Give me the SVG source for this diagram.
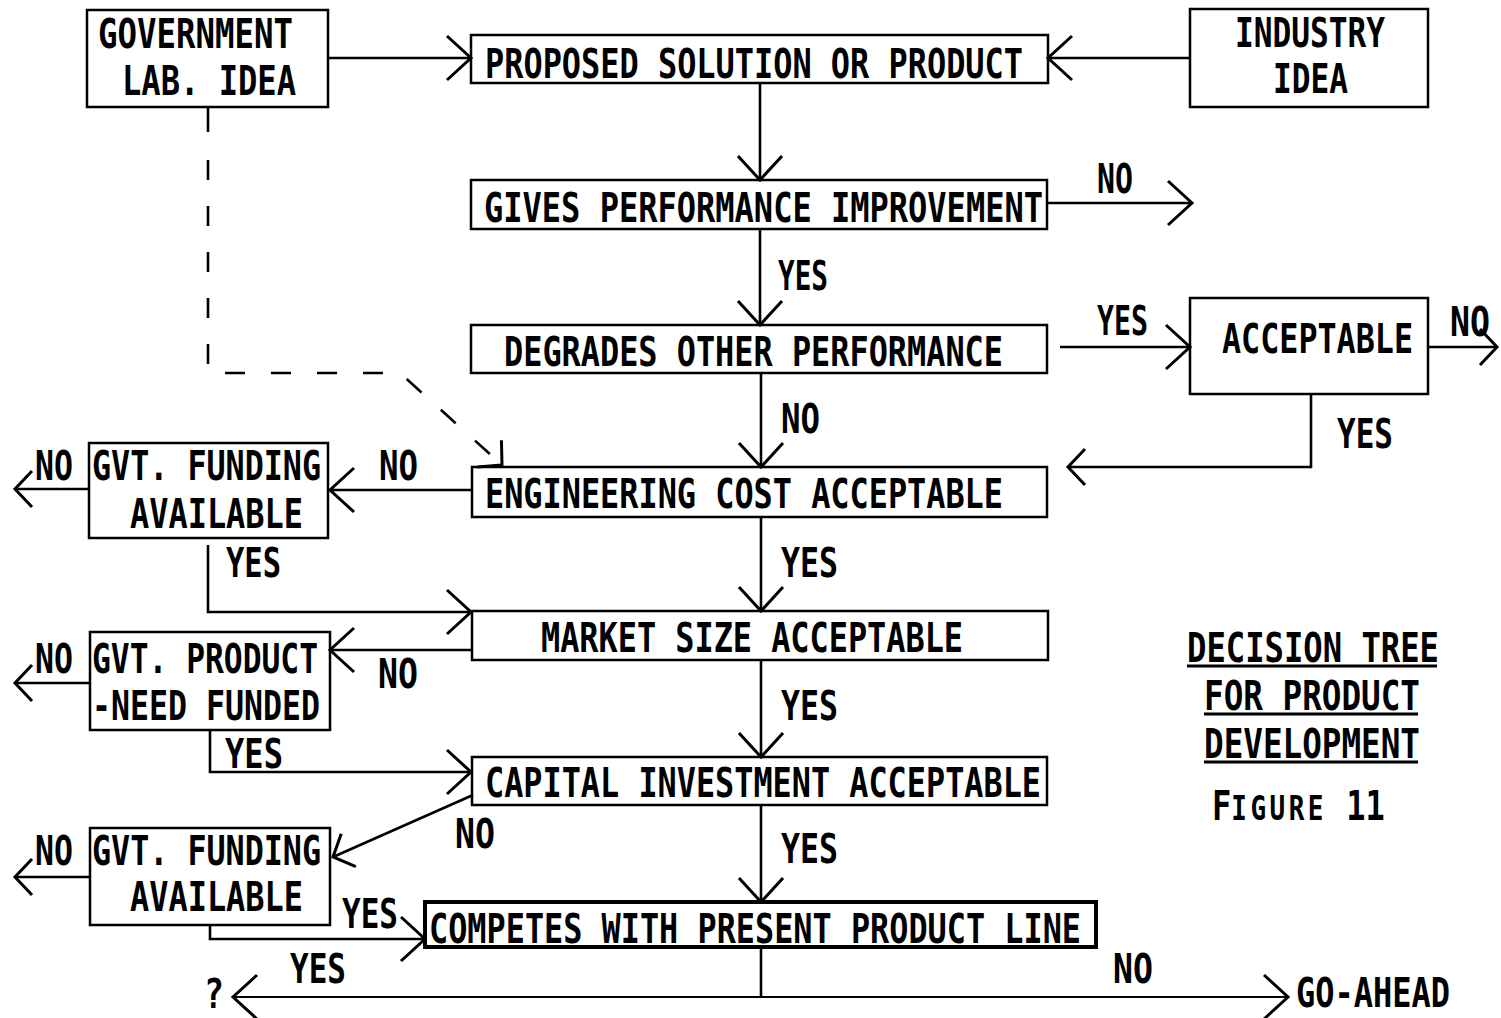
<svg xmlns="http://www.w3.org/2000/svg" width="1501" height="1018" viewBox="0 0 1501 1018">
<style>
.box{fill:none;stroke:#000;stroke-width:2.5}
.thick{stroke-width:4}
.c{fill:none;stroke:#000;stroke-width:2.6}
.dash{stroke-dasharray:20 26}
.thin{stroke-width:1.8}
text{font-family:"DejaVu Sans Mono","Liberation Mono",monospace;font-size:32px;font-weight:bold;fill:#000}
.ul{stroke:#000;stroke-width:3}
</style>
<defs>
<marker id="ah" markerUnits="userSpaceOnUse" viewBox="-30 -30 60 60" markerWidth="60" markerHeight="60" refX="0" refY="0" orient="auto" overflow="visible">
<path d="M-24,-22 L0,0 L-24,22" fill="none" stroke="#000" stroke-width="3"/>
</marker>
<marker id="as" markerUnits="userSpaceOnUse" viewBox="-30 -30 60 60" markerWidth="60" markerHeight="60" refX="0" refY="0" orient="auto" overflow="visible">
<path d="M-17,-18 L0,0 L-17,18" fill="none" stroke="#000" stroke-width="3"/>
</marker>
</defs>
<rect width="1501" height="1018" fill="#fff"/>

<g id="connectors">
<path class="c" d="M328,58 H471" marker-end="url(#ah)"/>
<path class="c" d="M1190,58 H1048" marker-end="url(#ah)"/>
<path class="c" d="M760,83 V180" marker-end="url(#ah)"/>
<path class="c" d="M1047,203 H1192" marker-end="url(#ah)"/>
<path class="c" d="M760,229 V325" marker-end="url(#ah)"/>
<path class="c" d="M1060,347 H1190" marker-end="url(#ah)"/>
<path class="c" d="M1428,347 H1497" marker-end="url(#as)"/>
<path class="c" d="M1311,394 V467 H1068" marker-end="url(#as)"/>
<path class="c" d="M761,373 V467" marker-end="url(#ah)"/>
<path class="c" d="M208,107 V132"/>
<path class="c dash" d="M208,160 V373 H400 L502,465" marker-end="url(#as)"/>
<path class="c" d="M472,490 H330" marker-end="url(#ah)"/>
<path class="c" d="M89,489 H15" marker-end="url(#as)"/>
<path class="c" d="M208,545 V612 H471" marker-end="url(#ah)"/>
<path class="c" d="M761,517 V611" marker-end="url(#ah)"/>
<path class="c" d="M472,650 H330" marker-end="url(#ah)"/>
<path class="c" d="M90,683 H15" marker-end="url(#as)"/>
<path class="c" d="M210,730 V772 H471" marker-end="url(#ah)"/>
<path class="c" d="M761,660 V757" marker-end="url(#ah)"/>
<path class="c" d="M473,795 L333,857" marker-end="url(#as)"/>
<path class="c" d="M90,877 H15" marker-end="url(#as)"/>
<path class="c" d="M210,925 V939 H425" marker-end="url(#ah)"/>
<path class="c" d="M761,805 V902" marker-end="url(#ah)"/>
<path class="c" d="M761,947 V997"/>
<path class="c thin" d="M761,997 H233" marker-end="url(#ah)"/>
<path class="c thin" d="M761,997 H1288" marker-end="url(#ah)"/>
</g>

<g id="labels">
<text transform="translate(1097,193) scale(1,1.29)" textLength="36" lengthAdjust="spacingAndGlyphs">NO</text>
<text transform="translate(778,290) scale(1,1.29)" textLength="50" lengthAdjust="spacingAndGlyphs">YES</text>
<text transform="translate(1097,335) scale(1,1.29)" textLength="51" lengthAdjust="spacingAndGlyphs">YES</text>
<text transform="translate(1450,336) scale(1,1.29)" textLength="40" lengthAdjust="spacingAndGlyphs">NO</text>
<text transform="translate(1337,448) scale(1,1.29)" textLength="56" lengthAdjust="spacingAndGlyphs">YES</text>
<text transform="translate(781,433) scale(1,1.29)" textLength="39" lengthAdjust="spacingAndGlyphs">NO</text>
<text transform="translate(379,480) scale(1,1.29)" textLength="39" lengthAdjust="spacingAndGlyphs">NO</text>
<text transform="translate(35,480) scale(1,1.29)" textLength="38" lengthAdjust="spacingAndGlyphs">NO</text>
<text transform="translate(226,577) scale(1,1.29)" textLength="55" lengthAdjust="spacingAndGlyphs">YES</text>
<text transform="translate(781,577) scale(1,1.29)" textLength="57" lengthAdjust="spacingAndGlyphs">YES</text>
<text transform="translate(378,688) scale(1,1.29)" textLength="40" lengthAdjust="spacingAndGlyphs">NO</text>
<text transform="translate(35,673) scale(1,1.29)" textLength="38" lengthAdjust="spacingAndGlyphs">NO</text>
<text transform="translate(225,768) scale(1,1.29)" textLength="58" lengthAdjust="spacingAndGlyphs">YES</text>
<text transform="translate(781,720) scale(1,1.29)" textLength="57" lengthAdjust="spacingAndGlyphs">YES</text>
<text transform="translate(455,848) scale(1,1.29)" textLength="40" lengthAdjust="spacingAndGlyphs">NO</text>
<text transform="translate(35,865) scale(1,1.29)" textLength="38" lengthAdjust="spacingAndGlyphs">NO</text>
<text transform="translate(781,863) scale(1,1.29)" textLength="57" lengthAdjust="spacingAndGlyphs">YES</text>
<text transform="translate(342,928) scale(1,1.29)" textLength="56" lengthAdjust="spacingAndGlyphs">YES</text>
<text transform="translate(290,983) scale(1,1.29)" textLength="56" lengthAdjust="spacingAndGlyphs">YES</text>
<text transform="translate(204,1008) scale(1,1.29)" textLength="20" lengthAdjust="spacingAndGlyphs">?</text>
<text transform="translate(1113,983) scale(1,1.29)" textLength="40" lengthAdjust="spacingAndGlyphs">NO</text>
<text transform="translate(1296,1007) scale(1,1.29)" textLength="154" lengthAdjust="spacingAndGlyphs">GO-AHEAD</text>
</g>

<g id="gov-lab-idea">
<rect class="box" x="87" y="10" width="241" height="97"/>
<text transform="translate(98,48) scale(1,1.29)" textLength="195" lengthAdjust="spacingAndGlyphs">GOVERNMENT</text>
<text transform="translate(122,95) scale(1,1.29)" textLength="174" lengthAdjust="spacingAndGlyphs">LAB. IDEA</text>
</g>
<g id="proposed">
<rect class="box" x="471" y="35" width="577" height="48"/>
<text transform="translate(485,78) scale(1,1.29)" textLength="538" lengthAdjust="spacingAndGlyphs">PROPOSED SOLUTION OR PRODUCT</text>
</g>
<g id="industry-idea">
<rect class="box" x="1190" y="9" width="238" height="98"/>
<text transform="translate(1235,47) scale(1,1.29)" textLength="150" lengthAdjust="spacingAndGlyphs">INDUSTRY</text>
<text transform="translate(1273,93) scale(1,1.29)" textLength="75" lengthAdjust="spacingAndGlyphs">IDEA</text>
</g>
<g id="gives">
<rect class="box" x="471" y="180" width="576" height="49"/>
<text transform="translate(484,222) scale(1,1.29)" textLength="559" lengthAdjust="spacingAndGlyphs">GIVES PERFORMANCE IMPROVEMENT</text>
</g>
<g id="degrades">
<rect class="box" x="471" y="325" width="576" height="48"/>
<text transform="translate(504,366) scale(1,1.29)" textLength="499" lengthAdjust="spacingAndGlyphs">DEGRADES OTHER PERFORMANCE</text>
</g>
<g id="acceptable">
<rect class="box" x="1190" y="298" width="238" height="96"/>
<text transform="translate(1222,353) scale(1,1.29)" textLength="191" lengthAdjust="spacingAndGlyphs">ACCEPTABLE</text>
</g>
<g id="engineering">
<rect class="box" x="472" y="467" width="575" height="50"/>
<text transform="translate(485,508) scale(1,1.29)" textLength="518" lengthAdjust="spacingAndGlyphs">ENGINEERING COST ACCEPTABLE</text>
</g>
<g id="gvt-funding-1">
<rect class="box" x="89" y="443" width="239" height="95"/>
<text transform="translate(92,480) scale(1,1.29)" textLength="229" lengthAdjust="spacingAndGlyphs">GVT. FUNDING</text>
<text transform="translate(130,528) scale(1,1.29)" textLength="173" lengthAdjust="spacingAndGlyphs">AVAILABLE</text>
</g>
<g id="market">
<rect class="box" x="472" y="611" width="576" height="49"/>
<text transform="translate(541,652) scale(1,1.29)" textLength="422" lengthAdjust="spacingAndGlyphs">MARKET SIZE ACCEPTABLE</text>
</g>
<g id="gvt-product">
<rect class="box" x="90" y="632" width="240" height="98"/>
<text transform="translate(92,673) scale(1,1.29)" textLength="226" lengthAdjust="spacingAndGlyphs">GVT. PRODUCT</text>
<text transform="translate(92,720) scale(1,1.29)" textLength="228" lengthAdjust="spacingAndGlyphs">-NEED FUNDED</text>
</g>
<g id="capital">
<rect class="box" x="472" y="757" width="575" height="48"/>
<text transform="translate(485,797) scale(1,1.29)" textLength="556" lengthAdjust="spacingAndGlyphs">CAPITAL INVESTMENT ACCEPTABLE</text>
</g>
<g id="gvt-funding-2">
<rect class="box" x="90" y="828" width="240" height="97"/>
<text transform="translate(92,865) scale(1,1.29)" textLength="229" lengthAdjust="spacingAndGlyphs">GVT. FUNDING</text>
<text transform="translate(130,911) scale(1,1.29)" textLength="173" lengthAdjust="spacingAndGlyphs">AVAILABLE</text>
</g>
<g id="competes">
<rect class="box thick" x="425" y="902" width="671" height="45"/>
<text transform="translate(429,943) scale(1,1.29)" textLength="652" lengthAdjust="spacingAndGlyphs">COMPETES WITH PRESENT PRODUCT LINE</text>
</g>

<g id="title">
<text transform="translate(1187,662) scale(1,1.29)" textLength="252" lengthAdjust="spacingAndGlyphs">DECISION TREE</text>
<line class="ul" x1="1187" y1="666" x2="1437" y2="666"/>
<text transform="translate(1204,710) scale(1,1.29)" textLength="216" lengthAdjust="spacingAndGlyphs">FOR PRODUCT</text>
<line class="ul" x1="1204" y1="714" x2="1418" y2="714"/>
<text transform="translate(1204,758) scale(1,1.29)" textLength="216" lengthAdjust="spacingAndGlyphs">DEVELOPMENT</text>
<line class="ul" x1="1204" y1="762" x2="1418" y2="762"/>
<text transform="translate(1212,820) scale(1,1.29)">F<tspan font-size="26" letter-spacing="3.5">IGURE </tspan>11</text>
</g>
</svg>
